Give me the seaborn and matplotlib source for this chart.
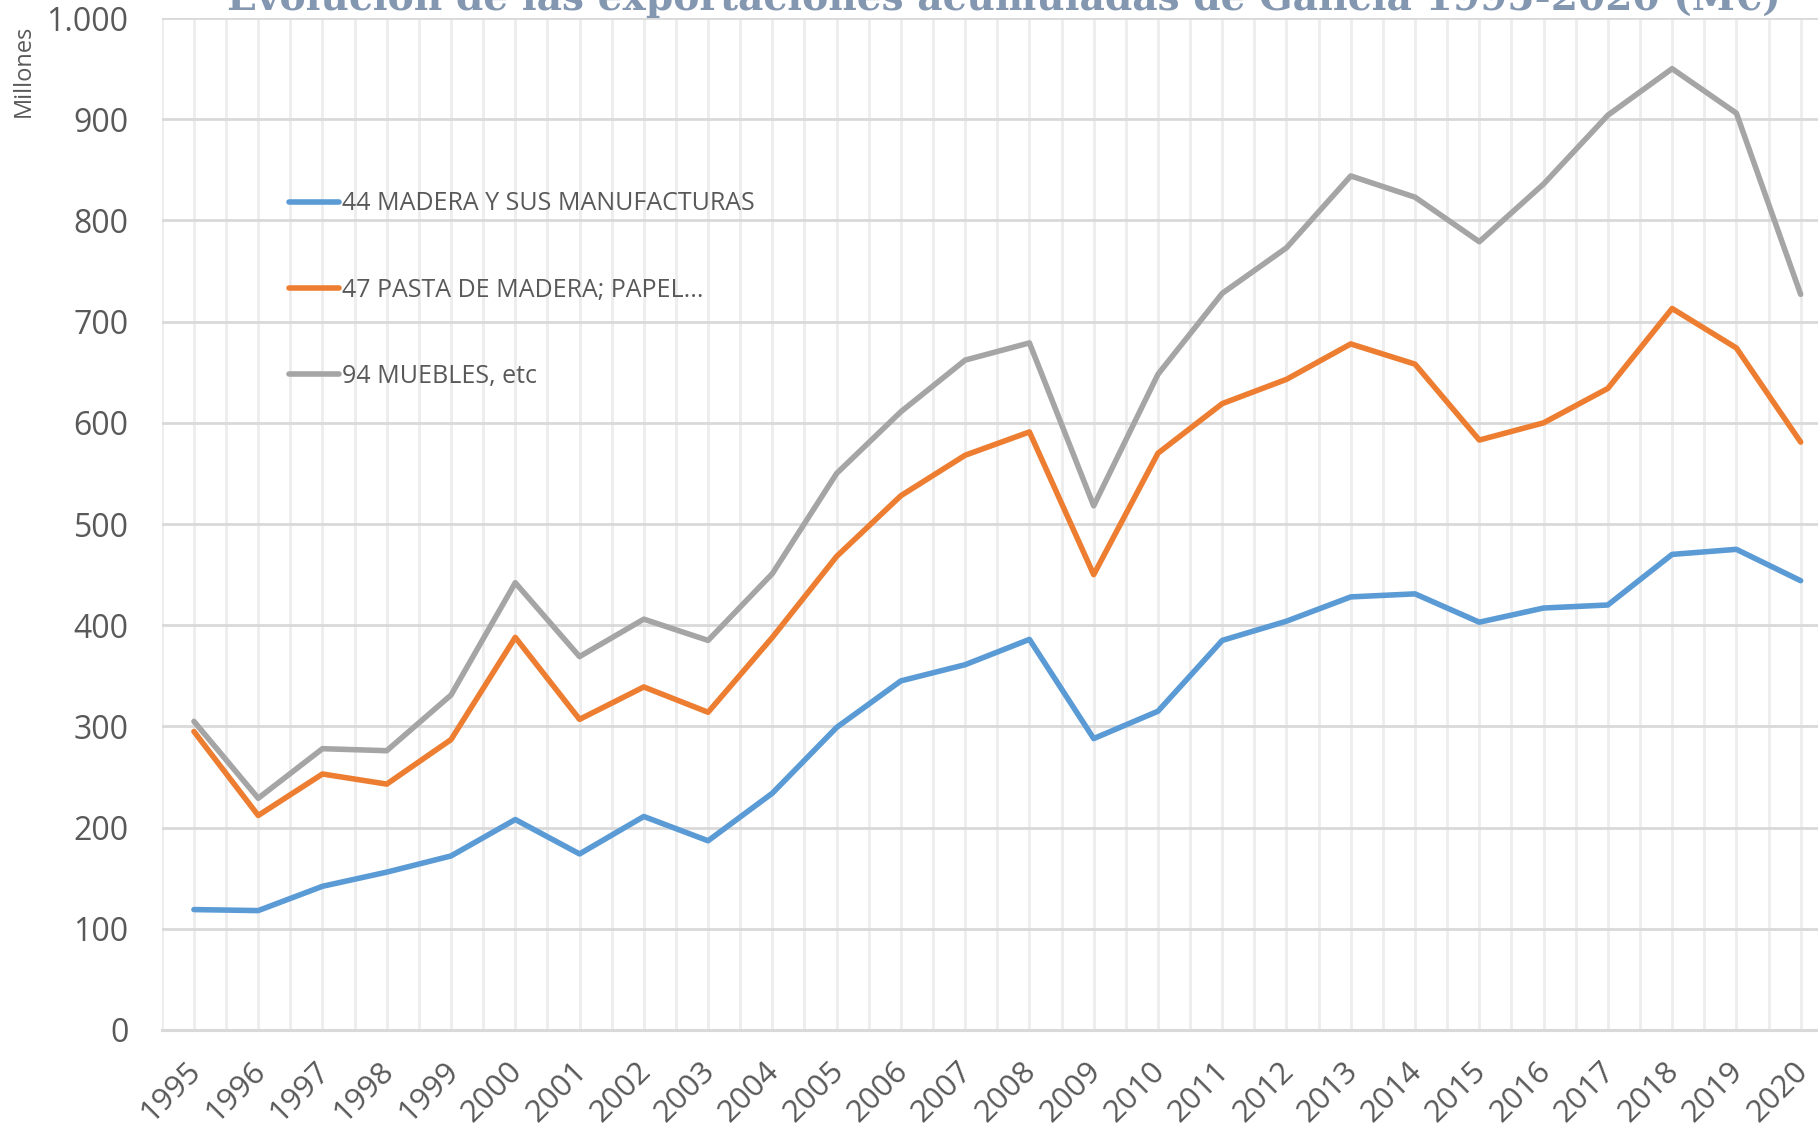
import pandas as pd
import matplotlib
matplotlib.use("Agg")
import matplotlib.pyplot as plt
import matplotlib.transforms as mtransforms
import seaborn as sns
from matplotlib.ticker import FuncFormatter, MultipleLocator

# Datos (millones de euros, valores acumulados)
anios = list(range(1995, 2021))
madera = [119, 118, 142, 156, 172, 208, 174, 211, 187, 234, 299, 345, 361,
          386, 288, 315, 385, 404, 428, 431, 403, 417, 420, 470, 475, 444]
pasta = [295, 212, 253, 243, 287, 388, 307, 339, 314, 388, 468, 528, 568,
         591, 450, 570, 619, 643, 678, 658, 583, 600, 634, 713, 674, 581]
muebles = [305, 229, 278, 276, 331, 442, 369, 406, 385, 451, 550, 611, 662,
           679, 518, 648, 728, 773, 844, 823, 779, 836, 904, 950, 906, 727]

series = ["44 MADERA Y SUS MANUFACTURAS", "47 PASTA DE MADERA; PAPEL...", "94 MUEBLES, etc"]
colores = ["#5B9BD5", "#ED7D31", "#A5A5A5"]

df = pd.DataFrame({
    "Año": anios * 3,
    "Valor": madera + pasta + muebles,
    "Serie": [series[0]] * len(anios) + [series[1]] * len(anios) + [series[2]] * len(anios),
})

sns.set_style("white")
plt.rcParams['font.family'] = ['Open Sans', 'DejaVu Sans']

fig = plt.figure(figsize=(18.18, 11.30), dpi=100)
ax = fig.add_axes([0.089, 0.0885, 0.911, 0.8955])

sns.lineplot(data=df, x="Año", y="Valor", hue="Serie", palette=dict(zip(series, colores)),
             linewidth=4.0, ax=ax, legend=True)

ax.yaxis.set_major_locator(MultipleLocator(100))
ax.yaxis.set_major_formatter(FuncFormatter(lambda v, p: f"{int(v):,}".replace(",", ".")))
ax.set_xticks(anios)
ax.set_xticks([a + 0.5 for a in range(1994, 2020)], minor=True)
ax.set_xticklabels([str(a) for a in anios], rotation=45, ha="right", rotation_mode="anchor")
ax.set_xlim(1994.5, 2020.27)
ax.set_ylim(0, 1000)

ax.grid(axis="y", which="major", color="#D9D9D9", linewidth=2.0)
ax.grid(axis="x", which="both", color="#EDEDED", linewidth=2.0)
ax.set_axisbelow(True)

for lado in ["top", "right", "left"]:
    ax.spines[lado].set_visible(False)
ax.spines["bottom"].set_color("#D9D9D9")
ax.spines["bottom"].set_linewidth(2.2)

ax.tick_params(axis="both", which="both", length=0, colors="#595959")
ax.tick_params(axis="y", labelsize=23, pad=24)
ax.tick_params(axis="x", labelsize=22.5, pad=19)
desplaza = mtransforms.ScaledTranslation(-8 / 100, 0, fig.dpi_scale_trans)
for lab in ax.get_xticklabels():
    lab.set_transform(lab.get_transform() + desplaza)
ax.set_xlabel("")
ax.set_ylabel("")

leg = ax.legend(loc="upper left", bbox_to_anchor=(0.063, 0.851), frameon=False,
                fontsize=18, handlelength=2.0, handletextpad=0.15, labelspacing=2.45)
for t in leg.get_texts():
    t.set_color("#595959")
for h in leg.get_lines():
    h.set_linewidth(4.0)

fig.text(0.0132, 1 - 71 / 1130, "Millones", rotation=90, fontsize=17,
         color="#595959", ha="center", va="center")

fig.text(0.552, 1 - 10 / 1130, "Evolución de las exportaciones acumuladas de Galicia 1995-2020 (M€)",
         family="DejaVu Serif", fontweight="bold", fontsize=28.2, color="#8497B0",
         ha="center", va="baseline")

fig.savefig("out.png", dpi=100)
